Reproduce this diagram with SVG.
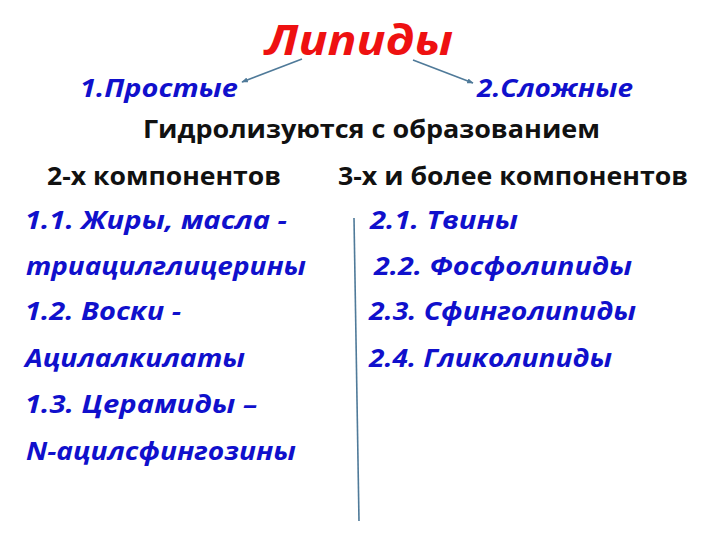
<svg xmlns="http://www.w3.org/2000/svg" width="720" height="540" viewBox="0 0 720 540">
<defs>
<marker id="ah" viewBox="0 0 10 10" refX="9" refY="5" markerWidth="4" markerHeight="4" orient="auto">
<path d="M0,1 L10,5 L0,9 z" fill="#4f7a99"/>
</marker>
<style>
.t{font-family:"Open Sans","Noto Sans","Liberation Sans",sans-serif;font-weight:bold}
.title{fill:#ee1111;font-style:italic;font-size:42px}
.blue{fill:#1010cc;font-style:italic;font-size:25px}
.blk{fill:#111;font-size:25px}
.ln{stroke:#4f7a99;stroke-width:1.6;fill:none}
</style>
</defs>
<rect width="720" height="540" fill="#fff"/>
<g id="connectors">
<line class="ln" x1="302" y1="59" x2="242" y2="82" marker-end="url(#ah)"/>
<line class="ln" x1="413" y1="60" x2="473" y2="83" marker-end="url(#ah)"/>
<line class="ln" x1="354" y1="218" x2="359" y2="521"/>
</g>
<g id="lipidy"><text class="t title" x="265" y="55" textLength="188" lengthAdjust="spacingAndGlyphs">Липиды</text></g>
<g id="prostye"><text class="t blue" x="80" y="97" textLength="158" lengthAdjust="spacingAndGlyphs">1.Простые</text></g>
<g id="slozhnye"><text class="t blue" x="477" y="97" textLength="156" lengthAdjust="spacingAndGlyphs">2.Сложные</text></g>
<g id="hydro"><text class="t blk" x="143" y="138" textLength="457" lengthAdjust="spacingAndGlyphs">Гидролизуются с образованием</text></g>
<g id="two"><text class="t blk" x="47" y="185" textLength="234" lengthAdjust="spacingAndGlyphs">2-х компонентов</text></g>
<g id="three"><text class="t blk" x="338" y="185" textLength="350" lengthAdjust="spacingAndGlyphs">3-х и более компонентов</text></g>
<g id="left-list">
<text class="t blue" x="25" y="229" textLength="262" lengthAdjust="spacingAndGlyphs">1.1. Жиры, масла -</text>
<text class="t blue" x="26" y="275" textLength="280" lengthAdjust="spacingAndGlyphs">триацилглицерины</text>
<text class="t blue" x="25" y="320" textLength="156" lengthAdjust="spacingAndGlyphs">1.2. Воски -</text>
<text class="t blue" x="25" y="367" textLength="220" lengthAdjust="spacingAndGlyphs">Ацилалкилаты</text>
<text class="t blue" x="25" y="413" textLength="232" lengthAdjust="spacingAndGlyphs">1.3. Церамиды –</text>
<text class="t blue" x="26" y="460" textLength="270" lengthAdjust="spacingAndGlyphs">N-ацилсфингозины</text>
</g>
<g id="right-list">
<text class="t blue" x="370" y="229" textLength="148" lengthAdjust="spacingAndGlyphs">2.1. Твины</text>
<text class="t blue" x="374" y="275" textLength="258" lengthAdjust="spacingAndGlyphs">2.2. Фосфолипиды</text>
<text class="t blue" x="369" y="320" textLength="267" lengthAdjust="spacingAndGlyphs">2.3. Сфинголипиды</text>
<text class="t blue" x="369" y="367" textLength="243" lengthAdjust="spacingAndGlyphs">2.4. Гликолипиды</text>
</g>
</svg>
